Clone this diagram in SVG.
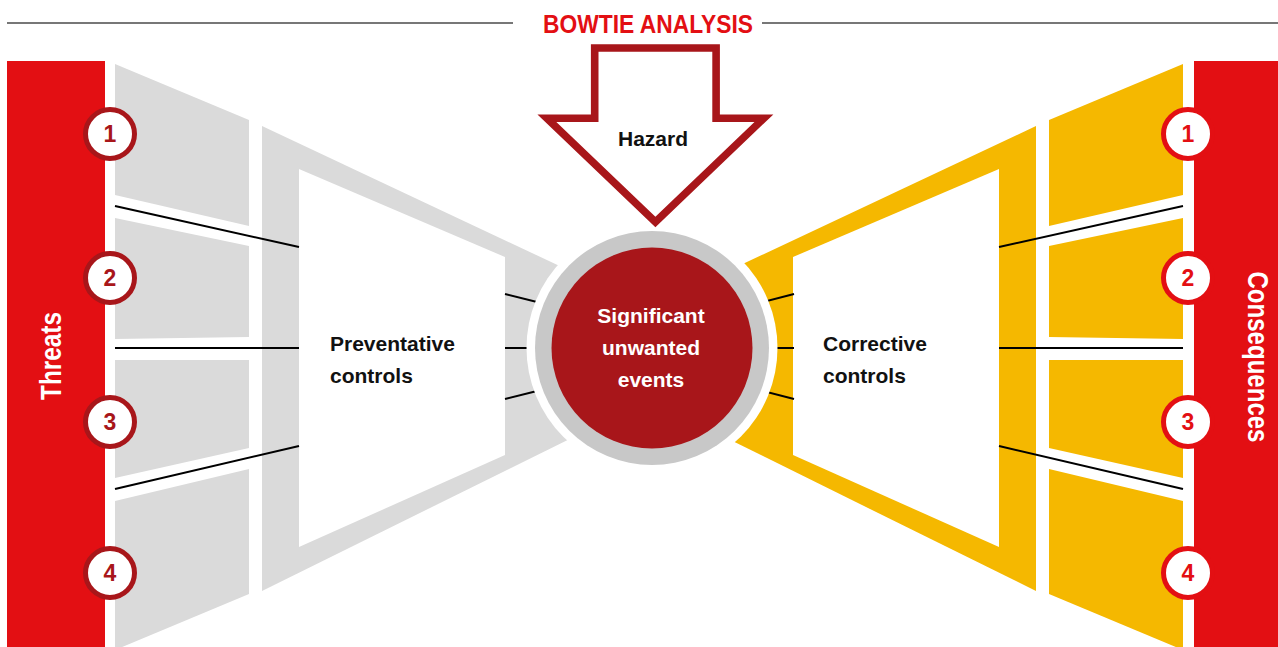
<svg xmlns="http://www.w3.org/2000/svg" width="1278" height="647" viewBox="0 0 1278 647">
  <defs>
    <style>
      .bar { fill: #e30f13; }
      .grey { fill: #dadada; }
      .gold { fill: #f5b800; }
      .blank { fill: #ffffff; }
      .rule { stroke: #777777; stroke-width: 2; fill: none; }
      .link { stroke: #000000; stroke-width: 2; fill: none; }
      .label { font-family: "Liberation Sans", Arial, sans-serif; font-weight: bold; font-size: 21px; fill: #111111; }
      .side { font-family: "Liberation Sans", Arial, sans-serif; font-weight: bold; font-size: 29px; fill: #ffffff; text-anchor: middle; }
      .badge-l circle { fill: #ffffff; stroke: #a8161a; stroke-width: 5; }
      .badge-l text { font-family: "Liberation Sans", Arial, sans-serif; font-weight: bold; font-size: 23px; fill: #a8161a; text-anchor: middle; }
      .badge-r circle { fill: #ffffff; stroke: #e30f13; stroke-width: 5; }
      .badge-r text { font-family: "Liberation Sans", Arial, sans-serif; font-weight: bold; font-size: 23px; fill: #e30f13; text-anchor: middle; }
    </style>
    <!-- one half of the bow: outer barrier column and inner funnel -->
    <g id="wing-outer">
      <polygon points="115,64 249,120 249,226 115,195"/>
      <polygon points="115,218 249,246 249,337 115,339"/>
      <polygon points="115,360 249,360 249,448 115,478"/>
      <polygon points="115,501 249,469 249,594 115,650"/>
      <polygon points="262,126 600,285 600,424 262,591"/>
    </g>
    <polygon id="wing-inner" points="299,169 505,257 505,455 299,547"/>
  </defs>

  <!-- title rule -->
  <g id="title">
    <line class="rule" x1="7" y1="23" x2="513" y2="23"/>
    <line class="rule" x1="762" y1="23" x2="1278" y2="23"/>
    <text x="648" y="33" text-anchor="middle" textLength="210" lengthAdjust="spacingAndGlyphs" font-family="Liberation Sans, Arial, sans-serif" font-weight="bold" font-size="25" fill="#e30f13">BOWTIE ANALYSIS</text>
  </g>

  <!-- threats column -->
  <g id="threats">
    <rect class="bar" x="7" y="61" width="98" height="590"/>
    <text class="side" transform="translate(61,356) rotate(-90)" textLength="88" lengthAdjust="spacingAndGlyphs">Threats</text>
  </g>

  <!-- consequences column -->
  <g id="consequences">
    <rect class="bar" x="1194" y="61" width="90" height="590"/>
    <text class="side" transform="translate(1248,357) rotate(90)" textLength="171" lengthAdjust="spacingAndGlyphs">Consequences</text>
  </g>

  <!-- preventative barriers (left wing) -->
  <g id="preventative-controls">
    <use href="#wing-outer" class="grey"/>
    <use href="#wing-inner" class="blank"/>
  </g>

  <!-- corrective barriers (right wing, mirrored) -->
  <g id="corrective-controls">
    <g transform="matrix(-1 0 0 1 1298 0)">
      <use href="#wing-outer" class="gold"/>
      <use href="#wing-inner" class="blank"/>
    </g>
  </g>

  <!-- connectors -->
  <g id="connectors">
    <line class="link" x1="115" y1="206" x2="299" y2="247"/>
    <line class="link" x1="115" y1="348" x2="299" y2="348"/>
    <line class="link" x1="115" y1="489" x2="299" y2="446"/>
    <line class="link" x1="505" y1="294" x2="545" y2="304"/>
    <line class="link" x1="505" y1="348" x2="545" y2="348"/>
    <line class="link" x1="505" y1="399" x2="545" y2="389"/>
    <line class="link" x1="1183" y1="206" x2="999" y2="247"/>
    <line class="link" x1="1183" y1="348" x2="999" y2="348"/>
    <line class="link" x1="1183" y1="489" x2="999" y2="446"/>
    <line class="link" x1="794" y1="294" x2="755" y2="304"/>
    <line class="link" x1="794" y1="348" x2="755" y2="348"/>
    <line class="link" x1="794" y1="399" x2="755" y2="389"/>
  </g>

  <!-- top event -->
  <g id="top-event">
    <circle cx="652" cy="348" r="125.5" fill="#ffffff"/>
    <circle cx="652" cy="348" r="117" fill="#c8c8c8"/>
    <circle cx="652" cy="348" r="100.5" fill="#a8161a"/>
    <g font-family="Liberation Sans, Arial, sans-serif" font-weight="bold" font-size="21" fill="#ffffff" text-anchor="middle">
      <text x="651" y="323">Significant</text>
      <text x="651" y="355">unwanted</text>
      <text x="651" y="387">events</text>
    </g>
  </g>

  <!-- hazard -->
  <g id="hazard">
    <path d="M594.7,48 H716.1 V118.2 H763.9 L655.4,222.1 L546.9,118.2 H594.7 Z" fill="#ffffff" stroke="#a8161a" stroke-width="7.6" stroke-linejoin="miter"/>
    <text class="label" x="653" y="146" text-anchor="middle">Hazard</text>
  </g>

  <!-- wing captions -->
  <g id="preventative-label">
    <text class="label" x="330" y="351">Preventative</text>
    <text class="label" x="330" y="383">controls</text>
  </g>
  <g id="corrective-label">
    <text class="label" x="823" y="351">Corrective</text>
    <text class="label" x="823" y="383">controls</text>
  </g>

  <!-- threat numbers -->
  <g id="threat-1" class="badge-l"><circle cx="110" cy="134" r="24.5"/><text x="110" y="142">1</text></g>
  <g id="threat-2" class="badge-l"><circle cx="110" cy="278" r="24.5"/><text x="110" y="286">2</text></g>
  <g id="threat-3" class="badge-l"><circle cx="110" cy="422" r="24.5"/><text x="110" y="430">3</text></g>
  <g id="threat-4" class="badge-l"><circle cx="110" cy="573" r="24.5"/><text x="110" y="581">4</text></g>

  <!-- consequence numbers -->
  <g id="consequence-1" class="badge-r"><circle cx="1188" cy="134" r="24.5"/><text x="1188" y="142">1</text></g>
  <g id="consequence-2" class="badge-r"><circle cx="1188" cy="278" r="24.5"/><text x="1188" y="286">2</text></g>
  <g id="consequence-3" class="badge-r"><circle cx="1188" cy="422" r="24.5"/><text x="1188" y="430">3</text></g>
  <g id="consequence-4" class="badge-r"><circle cx="1188" cy="573" r="24.5"/><text x="1188" y="581">4</text></g>
</svg>
